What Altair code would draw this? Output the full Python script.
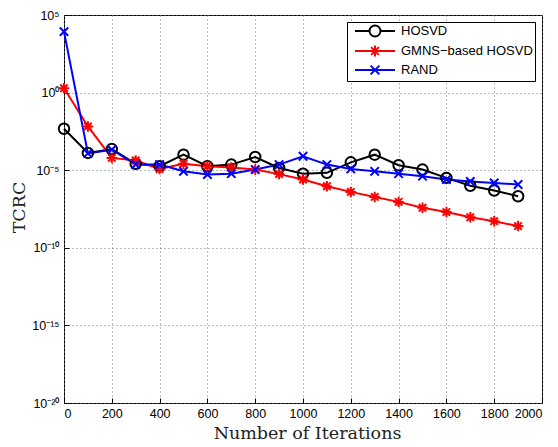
import math
import altair as alt
import pandas as pd

iterations = [0, 100, 200, 300, 400, 500, 600, 700, 800, 900,
              1000, 1100, 1200, 1300, 1400, 1500, 1600, 1700, 1800, 1900]
hosvd = [4.7e-3, 1.3e-4, 2.3e-4, 2.6e-5, 1.8e-5, 1.0e-4, 1.8e-5, 2.3e-5, 7.1e-5, 1.4e-5,
         6.0e-6, 6.8e-6, 3.2e-5, 1.0e-4, 2.1e-5, 1.1e-5, 3.2e-6, 1.0e-6, 4.9e-7, 2.1e-7]
gmns = [1.9e0, 6.6e-3, 6.2e-5, 4.2e-5, 1.2e-5, 2.6e-5, 1.8e-5, 1.5e-5, 1.1e-5, 5.6e-6,
        2.5e-6, 9.3e-7, 4.0e-7, 1.9e-7, 9.1e-8, 3.8e-8, 2.0e-8, 9.3e-9, 5.2e-9, 2.5e-9]
rand = [8.5e3, 1.2e-4, 2.1e-4, 2.3e-5, 2.3e-5, 8.5e-6, 5.2e-6, 6.0e-6, 1.1e-5, 2.3e-5,
        7.9e-5, 2.3e-5, 1.2e-5, 8.5e-6, 6.0e-6, 4.1e-6, 2.5e-6, 1.9e-6, 1.5e-6, 1.2e-6]

series_names = ["HOSVD", "GMNS\u2212based HOSVD", "RAND"]
series_colors = ["#000000", "#ff0000", "#0000ff"]
x_ticks = [0, 200, 400, 600, 800, 1000, 1200, 1400, 1600, 1800, 2000]
y_ticks = [1e-20, 1e-15, 1e-10, 1e-5, 1e0, 1e5]
y_tick_labels = ["10\u207b\u00b2\u2070", "10\u207b\u00b9\u2075", "10\u207b\u00b9\u2070",
                 "10\u207b\u2075", "10\u2070", "10\u2075"]

rows = []
for name, vals in zip(series_names, [hosvd, gmns, rand]):
    for it, v in zip(iterations, vals):
        rows.append({"iter": it, "tcrc": v, "series": name})
df = pd.DataFrame(rows)

# marker shapes (unit coordinates)
marker_paths = [
    "M1,0A1,1 0 1,1 -1,0A1,1 0 1,1 1,0Z",
    "M0,-1L0,1M-1,0L1,0M-0.71,-0.71L0.71,0.71M-0.71,0.71L0.71,-0.71",
    "M-0.8,-0.8L0.8,0.8M-0.8,0.8L0.8,-0.8",
]
# legend symbols: marker with a line through it (unit = 6px)
legend_paths = [
    "M-3.333,0L-0.917,0M0.917,0L3.333,0M0.917,0A0.917,0.917 0 1,1 -0.917,0A0.917,0.917 0 1,1 0.917,0Z",
    "M-3.333,0L3.333,0M0,-0.917L0,0.917M-0.648,-0.648L0.648,0.648M-0.648,0.648L0.648,-0.648",
    "M-3.333,0L3.333,0M-0.73,-0.73L0.73,0.73M-0.73,0.73L0.73,-0.73",
]

exps = [round(math.log10(v)) for v in y_ticks]
label_expr = "''"
for e, lab in zip(exps, y_tick_labels):
    label_expr = f"round(log(datum.value)/LN10) == {e} ? '{lab}' : ({label_expr})"

x_enc = alt.X(
    "iter:Q",
    scale=alt.Scale(domain=[0, 2000], nice=False, zero=False),
    axis=alt.Axis(
        values=x_ticks, format="d", title="Number of Iterations", grid=True,
        ticks=True, tickSize=alt.ExprRef("-5"),
        labelPadding=9, titleX=243, titleY=30, titleBaseline="middle",
    ),
)
y_enc = alt.Y(
    "tcrc:Q",
    scale=alt.Scale(type="log", domain=[1e-20, 1e5], nice=False),
    axis=alt.Axis(
        values=y_ticks, labelExpr=label_expr, title="TCRC", grid=True,
        ticks=True, tickSize=alt.ExprRef("-5"),
        labelPadding=10, titleX=-45, titleY=192, titleBaseline="middle",
        titleAlign="center", titleAngle=270,
    ),
)

leg = alt.Legend(
    title=None, orient="none", legendX=283, legendY=7, padding=2, symbolOffset=19,
    symbolSize=144, symbolStrokeWidth=2, labelFont="Liberation Sans", labelFontSize=13,
    labelColor="black", labelOffset=19, rowPadding=0, strokeColor="black", fillColor="white",
)
color_enc = alt.Color("series:N", scale=alt.Scale(domain=series_names, range=series_colors),
                      legend=leg)

base = alt.Chart(df)

lines = base.mark_line(strokeWidth=2).encode(x=x_enc, y=y_enc, color=color_enc)

point_layers = []
for name, path in zip(series_names, marker_paths):
    point_layers.append(
        base.transform_filter(alt.datum.series == name)
        .mark_point(filled=False, strokeWidth=2, size=110, opacity=1, shape=path)
        .encode(x=x_enc, y=y_enc, color=color_enc)
    )

legend_layer = base.transform_filter("false").mark_point(
    filled=False, strokeWidth=2, opacity=1
).encode(
    x=x_enc, y=y_enc, color=color_enc,
    shape=alt.Shape("series:N", scale=alt.Scale(domain=series_names, range=legend_paths),
                    legend=leg),
)

chart = alt.layer(lines, *point_layers, legend_layer).properties(
    width=478, height=388,
    padding={"left": 56, "top": 7, "right": 8, "bottom": 44},
    autosize=alt.AutoSizeParams(type="none"),
).configure_view(
    stroke="black", strokeWidth=1
).configure_axis(
    domain=False, tickColor="black", tickWidth=1,
    gridColor="#777777", gridDash=[1, 3], gridWidth=1, gridOpacity=1,
    labelFont="Liberation Sans", labelFontSize=12.5, labelColor="black",
    titleFont="DejaVu Serif", titleFontSize=17.5, titleFontWeight="normal", titleColor="#222222",
)

chart.save("out.html", embed_options={"renderer": "svg", "actions": False})
